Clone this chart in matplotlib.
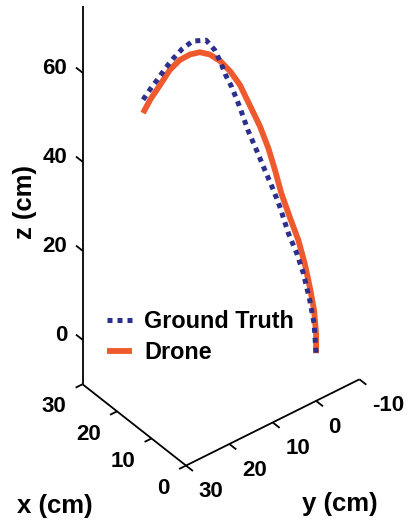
import matplotlib.pyplot as plt
from matplotlib.lines import Line2D
from mpl_toolkits.mplot3d import proj3d

plt.rcParams['font.family'] = 'Liberation Sans'
plt.rcParams['font.weight'] = 'bold'

# ground truth path (cm)
gt_x = [19.5, 18.6, 17.8, 17.0, 16.1, 15.1, 13.9, 12.4, 11.4, 10.8, 10.2, 9.5,
        8.6, 7.7, 6.7, 5.8, 4.8, 4.1, 3.1, 2.2, 1.4, 0.7, 0.2, 0.0]
gt_y = [24.4, 23.3, 22.2, 21.2, 20.1, 18.9, 17.4, 15.5, 14.3, 13.5, 12.8, 11.9,
        10.7, 9.6, 8.4, 7.2, 6.0, 5.1, 3.9, 2.7, 1.8, 0.9, 0.3, 0.0]
gt_z = [57.6, 60.2, 62.4, 64.7, 66.9, 69.0, 70.8, 71.0, 68.8, 66.2, 63.3, 60.5,
        55.8, 50.8, 46.3, 41.8, 37.3, 33.6, 27.6, 23.1, 18.6, 12.6, 7.4, 0.6]

# drone path (cm)
drone_x = [19.5, 18.7, 17.6, 16.5, 15.4, 14.2, 13.1, 12.0, 10.8, 9.7, 8.6, 7.3,
           6.3, 5.4, 4.6, 3.9, 3.0, 2.0, 1.3, 0.7, 0.2, 0.0, 0.0]
drone_y = [24.4, 23.4, 22.0, 20.6, 19.2, 17.8, 16.4, 15.0, 13.5, 12.1, 10.7, 9.1,
           7.9, 6.7, 5.8, 4.9, 3.7, 2.5, 1.6, 0.9, 0.3, 0.0, 0.0]
drone_z = [54.6, 57.6, 60.9, 64.3, 66.5, 67.8, 68.3, 67.8, 66.3, 64.0, 60.9, 55.6,
           51.6, 46.7, 41.8, 36.6, 31.3, 26.1, 20.9, 15.6, 10.4, 5.1, 0.7]

x_ticks = [0, 10, 20, 30]
y_ticks = [-10, 0, 10, 20, 30]
z_ticks = [0, 20, 40, 60]
x_lim = (0, 30)
y_lim = (-10, 30)
z_lim = (-10, 75)

gt_color = '#2D2F8E'
drone_color = '#EE5A2E'

fig = plt.figure(figsize=(4.09, 5.22), dpi=100)
ax = fig.add_axes([0.0381, 0.2375, 0.978, 0.7663], projection='3d',
                  proj_type='ortho')
ax.computed_zorder = False
ax.set_axis_off()

ax.plot(drone_x, drone_y, drone_z, color=drone_color, lw=4.2,
        solid_capstyle='butt', clip_on=False, zorder=3)
ax.plot(gt_x, gt_y, gt_z, color=gt_color, lw=3.6, linestyle=(0, (1, 1)),
        dash_capstyle='butt', clip_on=False, zorder=4)

# three box edges, MATLAB style
ax_kw = dict(color='black', lw=1.3, clip_on=False, zorder=2,
             solid_capstyle='butt')
ax.plot([x_lim[1], x_lim[1]], [y_lim[1], y_lim[1]], list(z_lim), **ax_kw)
ax.plot(list(x_lim), [y_lim[1], y_lim[1]], [z_lim[0], z_lim[0]], **ax_kw)
ax.plot([x_lim[0], x_lim[0]], list(y_lim), [z_lim[0], z_lim[0]], **ax_kw)

for v in x_ticks:
    ax.plot([v, v], [y_lim[1], y_lim[1] + 1.6], [z_lim[0], z_lim[0]], **ax_kw)
for v in y_ticks:
    ax.plot([x_lim[0], x_lim[0] - 2.0], [v, v], [z_lim[0], z_lim[0]], **ax_kw)
for v in z_ticks:
    ax.plot([x_lim[1], x_lim[1] + 1.9], [y_lim[1], y_lim[1]], [v, v], **ax_kw)

ax.set_xlim(*x_lim)
ax.set_ylim(*y_lim)
ax.set_zlim(*z_lim)
ax.set_box_aspect((30, 40, 87.5), zoom=1.355)
ax.view_init(elev=38.7, azim=141.5)

# tick labels: project the 3D anchor once and place plain 2D text there
M = ax.get_proj()
tick_fs = 16


def tick_label(x, y, z, s, ha):
    px, py, _ = proj3d.proj_transform(x, y, z, M)
    ax.text2D(px, py, s, transform=ax.transData, ha=ha, va='center',
              fontsize=tick_fs, fontweight='bold')


for v in x_ticks:
    tick_label(v, y_lim[1] + 3.7, z_lim[0] - 3.3, str(v), 'right')
for v in y_ticks:
    tick_label(x_lim[0] - 3.6, v, z_lim[0] - 3.7, str(v), 'left')
for v in z_ticks:
    tick_label(x_lim[1] + 3.1, y_lim[1] + 1.1, v - 0.5, str(v), 'right')

W, H = 409, 522
fig.text(55 / W, 1 - 506 / H, 'x (cm)', ha='center', va='center',
         fontsize=18.5, fontweight='bold')
fig.text(340 / W, 1 - 504 / H, 'y (cm)', ha='center', va='center',
         fontsize=18.5, fontweight='bold')
fig.text(25 / W, 1 - 202 / H, 'z (cm)', ha='center', va='center',
         rotation=90, fontsize=18.5, fontweight='bold')

handles = [Line2D([], [], color=gt_color, lw=3.6, linestyle=(0, (1, 1)),
                  dash_capstyle='butt'),
           Line2D([], [], color=drone_color, lw=4.2, solid_capstyle='butt')]
fig.legend(handles, ['Ground Truth', 'Drone'], loc='upper left',
           bbox_to_anchor=(107 / W, 1 - 310 / H), frameon=False,
           borderpad=0, borderaxespad=0, handlelength=1.06,
           handletextpad=0.53, labelspacing=0.36,
           prop={'size': 16.8, 'weight': 'bold'})

fig.savefig('out.png', dpi=100)
